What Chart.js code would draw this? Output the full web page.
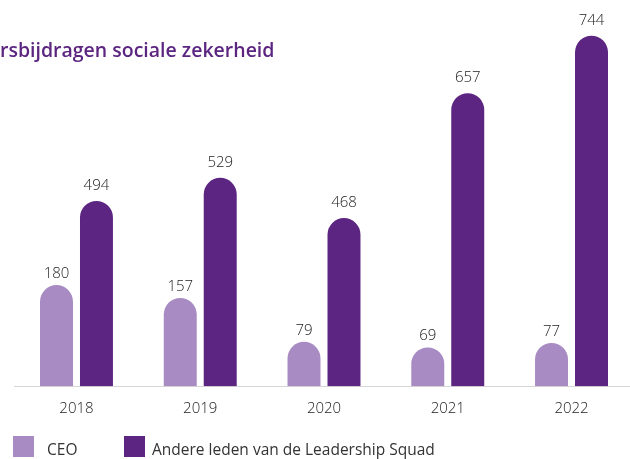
<!DOCTYPE html>
<html><head><meta charset="utf-8">
<script src="https://cdn.jsdelivr.net/npm/chart.js@4/dist/chart.umd.min.js"></script>
<style>html,body{margin:0;padding:0;overflow:hidden;background:#fff}canvas{display:block}</style>
</head><body>
<canvas id="c" width="645" height="459"></canvas>
<script>
const titleText = "rsbijdragen sociale zekerheid";
const years = ["2018", "2019", "2020", "2021", "2022"];
const seriesNames = ["CEO", "Andere leden van de Leadership Squad"];
const ceo = [180, 157, 79, 69, 77];
const andere = [494, 529, 468, 657, 744];

const colCeo = "#a78bc2";
const colAndere = "#5c2582";
const numFont = "'Open Sans', sans-serif";
const txtFont = "'Open Sans', sans-serif";

const decor = {
  id: "decor",
  afterDatasetsDraw(chart) {
    const ctx = chart.ctx;
    ctx.save();
    const gaps = [7, 11];
    ctx.font = "300 15px " + numFont;
    ctx.fillStyle = "#222";
    ctx.textAlign = "center";
    ctx.textBaseline = "alphabetic";
    chart.data.datasets.forEach((ds, di) => {
      const meta = chart.getDatasetMeta(di);
      meta.data.forEach((el, i) => {
        ctx.fillText(String(ds.data[i]), el.x, el.y - gaps[di]);
      });
    });
    ctx.textAlign = "left";
    ctx.font = "600 19.5px " + txtFont;
    ctx.fillStyle = "#5b2580";
    ctx.fillText(titleText, 0, 57);
    const items = [{x: 13, tx: 47}, {x: 124, tx: 152}];
    chart.data.datasets.forEach((ds, di) => {
      ctx.fillStyle = ds.backgroundColor;
      ctx.fillRect(items[di].x, 436, 21, 21);
      ctx.fillStyle = "#333";
      ctx.font = "15.5px " + txtFont;
      ctx.fillText(ds.label, items[di].tx, 455);
    });
    ctx.restore();
  }
};

new Chart(document.getElementById("c"), {
  type: "bar",
  data: {
    labels: years,
    datasets: [
      {label: seriesNames[0], data: ceo, backgroundColor: colCeo, yAxisID: "y",
       borderRadius: {topLeft: 20, topRight: 20, bottomLeft: 0, bottomRight: 0}, borderSkipped: "start"},
      {label: seriesNames[1], data: andere, backgroundColor: colAndere, yAxisID: "y2", base: 213.6,
       borderRadius: {topLeft: 20, topRight: 20, bottomLeft: 0, bottomRight: 0}, borderSkipped: "start"}
    ]
  },
  options: {
    responsive: false,
    animation: false,
    categoryPercentage: 0.646,
    barPercentage: 0.825,
    layout: {padding: {left: 14.6, right: 11.6, top: 10, bottom: 26.8}},
    plugins: {legend: {display: false}, tooltip: {enabled: false}, title: {display: false}},
    scales: {
      x: {
        grid: {display: false, drawTicks: false},
        border: {display: true, color: "#d6d6d6", width: 1},
        ticks: {color: "#222", font: {family: numFont, size: 15, weight: 300}, padding: 14}
      },
      y: {display: false, min: 0, max: 669.6},
      y2: {display: false, min: 213.6, max: 783}
    }
  },
  plugins: [decor]
});
</script>
</body></html>
